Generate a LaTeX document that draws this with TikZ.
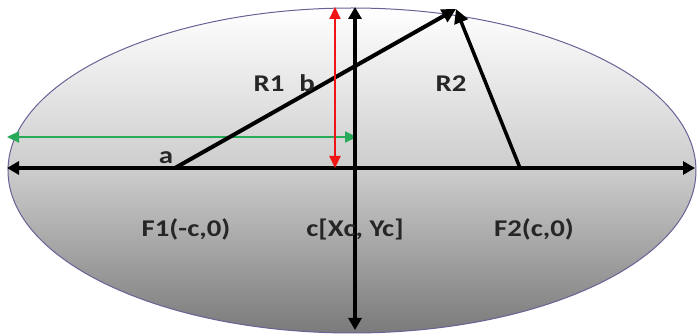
\documentclass[tikz,border=0pt]{standalone}
\usepackage{fontspec}
\setmainfont{Carlito}
\newfontfamily\lblfont{Carlito}[FakeStretch=1.2]
\usepackage{tikz}
\usetikzlibrary{arrows.meta,shapes.geometric}
\definecolor{rim}{RGB}{110,95,150}
\definecolor{cRed}{RGB}{240,20,20}
\definecolor{cGreen}{RGB}{40,170,90}
\tikzset{
  shell/.style={ellipse,draw=rim,line width=1pt,inner sep=0pt,
    minimum width=688pt,minimum height=325pt,
    top color=white,bottom color=black!52,middle color=black!20},
  axisline/.style={line width=4pt,
    {Triangle[length=12pt,width=13pt]}-{Triangle[length=12pt,width=13pt]}},
  semiaxis/.style={line width=2.2pt,
    {Triangle[length=12pt,width=11pt]}-{Triangle[length=12pt,width=11pt]}},
  focal/.style={line width=4pt,-{Triangle[length=14pt,width=14pt]}},
  lbl/.style={font=\lblfont\fontsize{24}{28}\selectfont\bfseries,
    inner sep=0pt,anchor=base,text=black!85},
}

\begin{document}
\begin{tikzpicture}[x=1pt,y=1pt]
  \useasboundingbox (0,0) rectangle (697,335);
  \node[shell] (ell) at (352,164.5) {};
  % end points
  \coordinate (W) at (7,167);
  \coordinate (E) at (695,167);
  \coordinate (N) at (355,328);
  \coordinate (S) at (355,5);
  \coordinate (bTop) at (335,328);
  \coordinate (bBot) at (335,167);
  \coordinate (aL) at (7,198);
  \coordinate (aR) at (357,198);
  \coordinate (F1) at (175,167);
  \coordinate (F2) at (520,167);
  \coordinate (P) at (456,326);
  % arrows
  \draw[semiaxis,cGreen] (aL) -- (aR);
  \draw[focal] (F1) -- (P);
  \draw[focal,line width=3.5pt] (F2) -- (P);
  \draw[axisline] (W) -- (E);
  \draw[semiaxis,cRed] (bBot) -- (bTop);
  \draw[axisline] (S) -- (N);
  % labels
  \node[lbl] (la) at (166,171) {a};
  \node[lbl] (lR1) at (269,243) {R1};
  \node[lbl] (lb) at (307,243) {b};
  \node[lbl] (lR2) at (451,243) {R2};
  \node[lbl] (lF1) at (186,98) {F1(-c,0)};
  \node[lbl] (lc) at (355,98) {c[Xc, Yc]};
  \node[lbl] (lF2) at (534,98) {F2(c,0)};
\end{tikzpicture}
\end{document}
